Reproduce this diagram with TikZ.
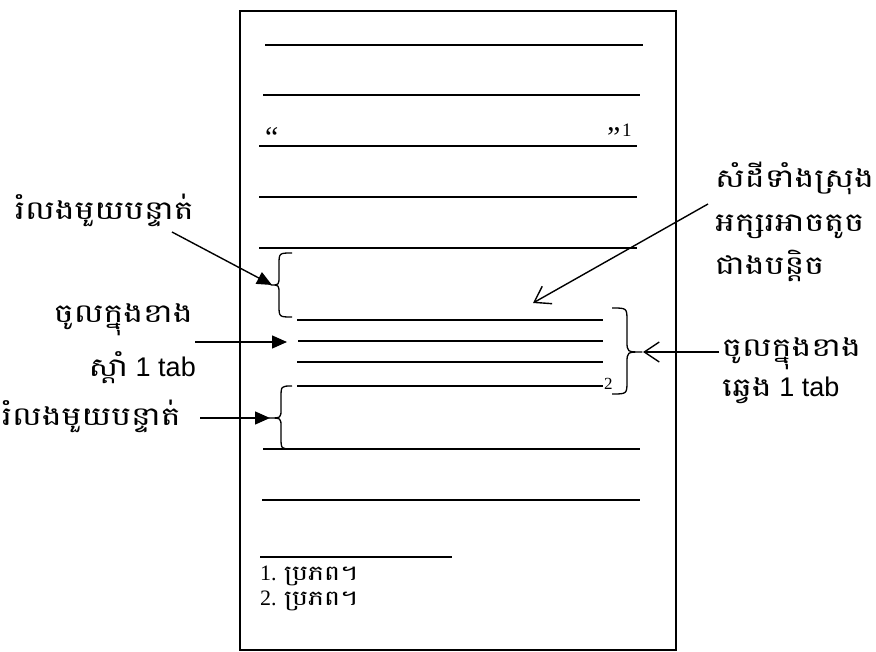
\documentclass[tikz,border=0pt]{standalone}
\usepackage{fontspec}
\setmainfont{Liberation Serif}
\newfontfamily\kh[Script=Khmer,FakeStretch=1.28]{Battambang}
\newfontfamily\la{Liberation Sans}
\usetikzlibrary{arrows.meta}
\begin{document}
\begin{tikzpicture}[x=1pt,y=-1pt,
  textline/.style={line width=1.5pt},
  pagebox/.style={line width=2.5pt},
  bracestyle/.style={line width=1.3pt,line join=round},
  filledarrow/.style={line width=1.4pt,-{Triangle[length=15pt,width=13pt]}},
  openarrow/.style={line width=1.4pt,-{Straight Barb[length=15pt,width=20pt,line width=1.4pt]}},
  label/.style={font=\kh\fontsize{26}{28}\selectfont,inner sep=0pt},
  foot/.style={font=\fontsize{22}{24}\selectfont,inner sep=0pt,anchor=base west}
]
\useasboundingbox (0,0) rectangle (876,652);
% page
\draw[pagebox] (240,11) rectangle (676,650);
% text lines
\draw[textline] (265,45) -- (643,45);
\draw[textline] (263,95) -- (640,95);
\draw[textline] (259,146) -- (637,146);
\draw[textline] (259,197) -- (637,197);
\draw[textline] (259,248) -- (637,248);
\draw[textline] (297,320) -- (603,320);
\draw[textline] (298,341) -- (603,341);
\draw[textline] (297,362) -- (603,362);
\draw[textline] (297,386) -- (603,386);
\draw[textline] (263,449) -- (640,449);
\draw[textline] (262,500) -- (640,500);
\draw[textline] (260,557) -- (452,557);
% quotes and note marks
\node[inner sep=0pt,anchor=base west,font=\fontsize{30}{30}\selectfont] (q1) at (265,148) {“};
\node[inner sep=0pt,anchor=base west,font=\fontsize{30}{30}\selectfont] (q2) at (607,148) {”};
\node[inner sep=0pt,anchor=base west,font=\fontsize{19}{20}\selectfont] (n1) at (622,137) {1};
\node[inner sep=0pt,anchor=base west,font=\fontsize{17}{18}\selectfont] (n2) at (604,390) {2};
% footnotes
\node[foot] (f1) at (260,580) {1. {\kh\fontsize{21}{22}\selectfont ប្រភព។}};
\node[foot] (f2) at (260,605) {2. {\kh\fontsize{21}{22}\selectfont ប្រភព។}};
% braces
\draw[bracestyle] (292,253) .. controls (279,253) .. (279,265) -- (279,276)
  .. controls (279,285) .. (271,285) .. controls (279,285) .. (279,294)
  -- (279,305) .. controls (279,317) .. (292,317);
\coordinate (b1) at (272,285);
\draw[bracestyle] (292,386) .. controls (281,386) .. (281,398) -- (281,409)
  .. controls (281,418) .. (269,418) .. controls (281,418) .. (281,427)
  -- (281,437) .. controls (281,449) .. (292,449);
\coordinate (b2) at (270,418);
\draw[bracestyle] (612,308) .. controls (627,308) .. (627,321) -- (627,341)
  .. controls (627,352) .. (642,352) .. controls (627,352) .. (627,363)
  -- (627,381) .. controls (627,394) .. (612,394);
\coordinate (b3) at (643,352);
\coordinate (b4) at (287,342);
\coordinate (b5) at (533,303);
% left labels
\node[label,anchor=base west] (l1) at (15,220) {រំលងមួយបន្ទាត់};
\node[label,anchor=base east] (l2) at (193,323) {ចូលក្នុងខាង};
\node[label,anchor=base east] (l3) at (196,377) {ស្តាំ{\la\fontsize{27}{28}\selectfont\ 1 tab}};
\node[label,anchor=base west] (l4) at (2,425) {រំលងមួយបន្ទាត់};
% right labels
\node[label,anchor=base west] (r1) at (715,188) {សំដីទាំងស្រុង};
\node[label,anchor=base west] (r2) at (715,232) {អក្សរអាចតូច};
\node[label,anchor=base west] (r3) at (715,275) {ជាងបន្តិច};
\node[label,anchor=base west] (r4) at (722,357) {ចូលក្នុងខាង};
\node[label,anchor=base west] (r5) at (722,396) {ឆ្វេង{\la\fontsize{27}{28}\selectfont\ 1 tab}};
% arrow start points
\coordinate (s1) at (172,232);
\coordinate (s2) at (195,342);
\coordinate (s3) at (200,418);
\coordinate (s4) at (708,204);
\coordinate (s5) at (719,352);
% arrows
\draw[filledarrow] (s1) -- (b1);
\draw[filledarrow] (s2) -- (b4);
\draw[filledarrow] (s3) -- (b2);
\draw[openarrow] (s4) -- (b5);
\draw[openarrow] (s5) -- (b3);
\end{tikzpicture}
\end{document}
